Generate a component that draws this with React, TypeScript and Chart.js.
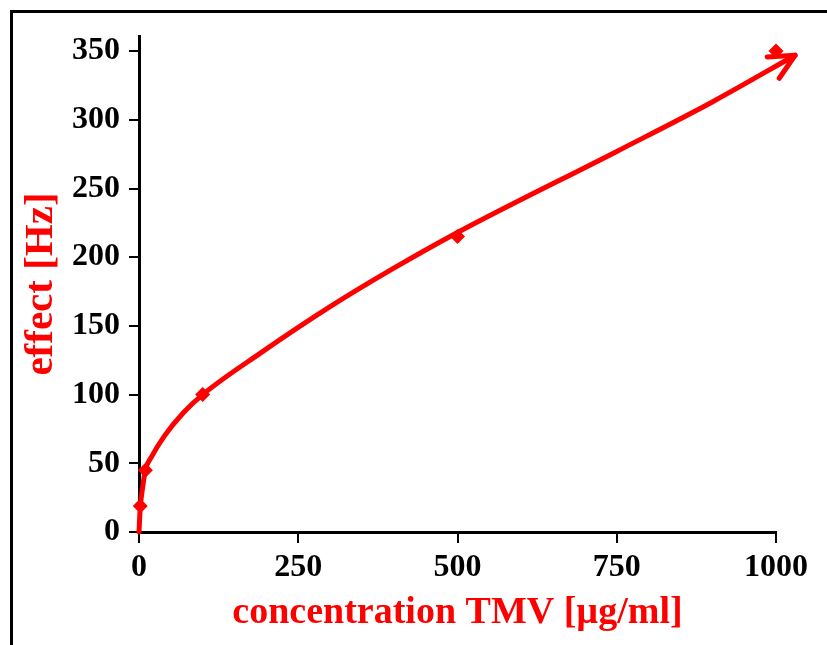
import React, { useEffect, useRef } from 'react';
import { Chart, registerables } from 'chart.js';

Chart.register(...registerables);

// measured points (diamond markers)
const measuredX = [2, 10, 100, 500, 1000];
const measuredY = [19, 45, 100, 215, 350];
// fitted curve
const fitX = [0, 2, 5, 10, 20, 40, 70, 100, 190, 300, 400, 500, 750, 900, 1030];
const fitY = [0, 18, 30, 45, 55, 70, 87, 100, 130, 164, 192, 218, 277, 313, 347];
// axes
const xTicks = [0, 250, 500, 750, 1000];
const yTicks = [0, 50, 100, 150, 200, 250, 300, 350];
const xTitle = 'concentration TMV [µg/ml]';
const yTitle = 'effect [Hz]';

const RED = '#ff0000';
const SERIF = '"Liberation Serif", "Times New Roman", serif';

const arrowPlugin = {
  id: 'arrowHead',
  afterDatasetsDraw(chart: any) {
    const meta = chart.getDatasetMeta(1);
    const pts = meta.data;
    const n = pts.length;
    if (n < 2) return;
    const a = pts[n - 2];
    const b = pts[n - 1];
    const ang = Math.atan2(b.y - a.y, b.x - a.x);
    const L = 28;
    const h = (26 * Math.PI) / 180;
    const ctx = chart.ctx;
    ctx.save();
    ctx.strokeStyle = RED;
    ctx.lineWidth = 5;
    ctx.lineCap = 'round';
    ctx.lineJoin = 'round';
    ctx.beginPath();
    ctx.moveTo(b.x - L * Math.cos(ang + h), b.y - L * Math.sin(ang + h));
    ctx.lineTo(b.x, b.y);
    ctx.lineTo(b.x - L * Math.cos(ang - h), b.y - L * Math.sin(ang - h));
    ctx.stroke();
    ctx.restore();
  },
};

const framePlugin = {
  id: 'frame',
  afterDraw(chart: any) {
    const ctx = chart.ctx;
    ctx.save();
    ctx.fillStyle = '#000';
    ctx.fillRect(10, 10, 3, chart.height);
    ctx.fillRect(10, 10, chart.width, 3);
    ctx.restore();
  },
};

export default function App() {
  const ref = useRef<HTMLCanvasElement | null>(null);
  useEffect(() => {
    if (!ref.current) return;
    const chart = new Chart(ref.current, {
      type: 'scatter',
      data: {
        datasets: [
          {
            label: 'measured',
            data: measuredX.map((x, i) => ({ x, y: measuredY[i] })),
            backgroundColor: RED,
            borderColor: RED,
            borderWidth: 0,
            pointStyle: 'rectRot',
            pointRadius: 7.5,
            showLine: false,
            clip: false,
          },
          {
            label: 'fit',
            data: fitX.map((x, i) => ({ x, y: fitY[i] })),
            borderColor: RED,
            borderWidth: 5,
            pointRadius: 0,
            showLine: true,
            cubicInterpolationMode: 'monotone',
            borderCapStyle: 'round',
            clip: false,
          },
        ],
      },
      options: {
        animation: false,
        responsive: false,
        devicePixelRatio: 1,
        layout: { padding: { top: 36, right: 51, left: 0, bottom: 0 } },
        plugins: { legend: { display: false }, tooltip: { enabled: false } },
        scales: {
          x: {
            type: 'linear',
            min: 0,
            max: 1000,
            afterFit: (s: any) => {
              s.height = 113;
            },
            afterBuildTicks: (s: any) => {
              s.ticks = xTicks.map((v) => ({ value: v }));
            },
            ticks: {
              color: '#000',
              padding: 6,
              maxRotation: 0,
              callback: (v: any) => String(v),
              font: { family: SERIF, size: 32, weight: 'bold' },
            },
            grid: {
              drawOnChartArea: false,
              drawTicks: true,
              tickLength: 11,
              tickColor: '#000',
              tickWidth: 2,
              color: '#000',
              lineWidth: 2,
            },
            border: { display: true, color: '#000', width: 3 },
            title: {
              display: true,
              text: xTitle,
              color: RED,
              padding: { top: 0, bottom: 9 },
              font: { family: SERIF, size: 38, weight: 'bold' },
            },
          },
          y: {
            type: 'linear',
            min: 0,
            max: 361,
            afterFit: (s: any) => {
              s.width = 139;
            },
            afterBuildTicks: (s: any) => {
              s.ticks = yTicks.map((v) => ({ value: v }));
            },
            ticks: {
              color: '#000',
              padding: 9,
              callback: (v: any) => String(v),
              font: { family: SERIF, size: 32, weight: 'bold' },
            },
            grid: {
              drawOnChartArea: false,
              drawTicks: true,
              tickLength: 10,
              tickColor: '#000',
              tickWidth: 2,
              color: '#000',
              lineWidth: 2,
            },
            border: { display: true, color: '#000', width: 3 },
            title: {
              display: true,
              text: yTitle,
              color: RED,
              padding: { top: 17, bottom: 0 },
              font: { family: SERIF, size: 41, weight: 'bold' },
            },
          },
        },
      } as any,
      plugins: [arrowPlugin, framePlugin],
    });
    return () => chart.destroy();
  }, []);
  return (
    <div style={{ position: 'fixed', left: 0, top: 0, width: 827, height: 645, background: '#fff' }}>
      <canvas ref={ref} width={827} height={645} style={{ display: 'block' }} />
    </div>
  );
}
